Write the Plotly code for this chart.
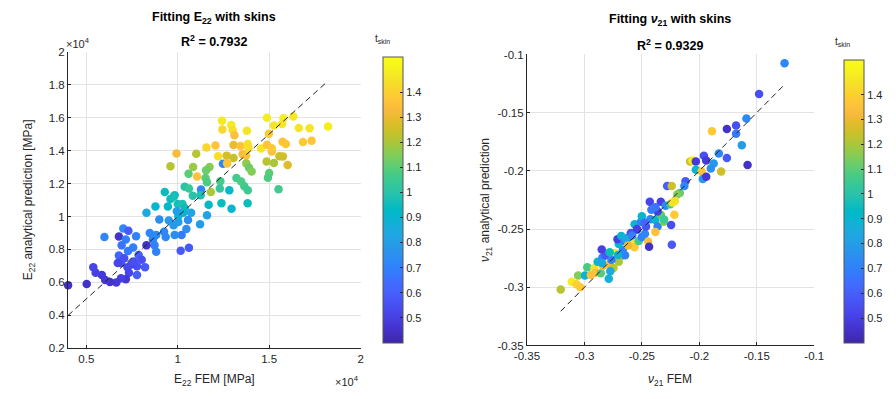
import plotly.graph_objects as go

# ---------------- data: left panel (E22, values x1e4) ----------------
e22_fem = [1.242, 1.244, 1.293, 1.300, 1.310, 1.378, 1.488, 1.526, 1.578, 1.570,
           1.632, 1.662, 1.721, 1.822, 1.498, 1.157, 1.206, 0.993, 1.101, 0.960,
           1.305, 1.343, 1.383, 1.355, 1.373, 1.387, 1.456, 1.488, 1.514, 1.514,
           1.573, 1.591, 1.685, 1.732, 1.221, 1.268, 1.305, 1.247, 1.270, 1.556,
           1.575, 1.601, 1.486, 1.526, 1.375, 1.390, 1.404, 1.084, 1.174, 1.155,
           1.059, 1.106, 1.152, 1.233, 1.160, 1.321, 1.347, 1.364, 1.383, 1.500,
           1.493, 1.551, 1.038, 1.061, 0.929, 0.983, 1.127, 1.181, 1.230, 1.282,
           0.960, 0.977, 0.878, 0.829, 0.946, 1.000, 1.026, 1.038, 1.073, 1.030,
           1.003, 0.995, 1.082, 1.125, 1.169, 1.239, 1.294, 1.382, 1.160, 1.122,
           0.899, 0.951, 0.977, 1.003, 1.047, 1.056, 1.021, 0.983, 0.925, 0.934,
           0.882, 0.864, 0.873, 0.882, 0.847, 0.829, 1.016, 1.061, 0.702, 0.730,
           0.772, 0.599, 0.678, 0.716, 0.756, 0.728, 0.693, 0.678, 0.707, 0.786,
           0.803, 0.821, 0.777, 0.746, 0.760, 0.725, 0.690, 0.672, 0.733, 0.777,
           0.716, 0.690, 0.664, 0.629, 0.603, 0.585, 0.551, 0.538, 0.400, 0.502]
e22_pred = [1.580, 1.527, 1.555, 1.525, 1.492, 1.520, 1.598, 1.551, 1.596, 1.561,
            1.606, 1.537, 1.535, 1.545, 1.502, 1.418, 1.431, 1.382, 1.380, 1.304,
            1.433, 1.427, 1.439, 1.378, 1.369, 1.414, 1.412, 1.435, 1.394, 1.414,
            1.453, 1.439, 1.451, 1.459, 1.365, 1.369, 1.355, 1.320, 1.322, 1.365,
            1.363, 1.312, 1.333, 1.324, 1.322, 1.296, 1.273, 1.300, 1.300, 1.280,
            1.259, 1.243, 1.233, 1.214, 1.208, 1.233, 1.212, 1.184, 1.159, 1.263,
            1.235, 1.165, 1.180, 1.169, 1.149, 1.129, 1.163, 1.149, 1.169, 1.159,
            1.106, 1.120, 1.061, 1.022, 1.061, 1.076, 1.076, 1.051, 1.022, 1.022,
            1.002, 1.031, 1.125, 1.129, 1.071, 1.080, 1.047, 1.080, 1.008, 0.953,
            0.982, 0.976, 0.947, 0.967, 0.924, 0.978, 0.888, 0.888, 0.908, 0.875,
            0.888, 0.861, 0.825, 0.786, 0.900, 0.825, 0.792, 0.810, 0.927, 0.914,
            0.880, 0.875, 0.878, 0.861, 0.812, 0.790, 0.825, 0.763, 0.747, 0.767,
            0.737, 0.692, 0.698, 0.708, 0.727, 0.692, 0.718, 0.718, 0.659, 0.645,
            0.620, 0.625, 0.600, 0.602, 0.614, 0.645, 0.659, 0.692, 0.583, 0.590]
e22_tskin = [1.47, 1.42, 1.47, 1.44, 1.35, 1.46, 1.48, 1.45, 1.48, 1.46,
             1.47, 1.46, 1.46, 1.48, 1.38, 1.42, 1.36, 1.33, 1.22, 1.22,
             1.30, 1.36, 1.45, 1.33, 1.36, 1.44, 1.46, 1.36, 1.35, 1.38,
             1.36, 1.37, 1.38, 1.37, 1.44, 1.26, 1.24, 0.72, 1.36, 1.24,
             1.26, 1.28, 1.22, 1.20, 1.17, 1.12, 1.15, 1.18, 1.16, 1.12,
             1.10, 1.36, 1.10, 1.07, 1.08, 1.06, 1.08, 1.06, 1.05, 1.10,
             1.08, 1.06, 1.00, 1.04, 0.95, 0.95, 0.72, 1.20, 1.03, 0.93,
             0.95, 0.97, 0.90, 0.85, 0.93, 0.97, 0.98, 0.95, 0.82, 0.90,
             0.88, 0.80, 1.00, 0.98, 0.93, 0.95, 0.90, 0.95, 0.82, 0.80,
             0.75, 0.78, 0.78, 0.80, 0.75, 0.75, 0.68, 0.75, 0.72, 0.72,
             0.74, 0.72, 0.70, 0.70, 0.72, 0.45, 0.58, 0.58, 0.72, 0.58,
             0.70, 0.72, 0.46, 0.70, 0.70, 0.68, 0.66, 0.62, 0.55, 0.60,
             0.55, 0.58, 0.55, 0.52, 0.55, 0.53, 0.56, 0.52, 0.52, 0.60,
             0.47, 0.50, 0.48, 0.46, 0.47, 0.48, 0.50, 0.52, 0.44, 0.45]

# ---------------- data: right panel (nu21) ----------------
nu_fem = [-0.1258, -0.148, -0.159, -0.168, -0.176, -0.189, -0.168, -0.163, -0.176, -0.183,
          -0.158, -0.196, -0.194, -0.208, -0.206, -0.203, -0.1875, -0.190, -0.203, -0.198,
          -0.181, -0.197, -0.194, -0.212, -0.213, -0.228, -0.224, -0.217, -0.219,
          -0.3206, -0.311, -0.3069, -0.3036, -0.3055, -0.2995, -0.2975, -0.2912, -0.2904, -0.2857,
          -0.2885, -0.2838, -0.2783, -0.2747, -0.2788, -0.2775, -0.2843, -0.2816, -0.2849, -0.2734,
          -0.2684, -0.2701, -0.2646, -0.2665, -0.2701, -0.2712, -0.2679, -0.2651, -0.2618, -0.2596,
          -0.2569, -0.2563, -0.2527, -0.2500, -0.2445, -0.2437, -0.2473, -0.2541, -0.2563, -0.2508,
          -0.2464, -0.2426, -0.2382, -0.2363, -0.2382, -0.2335, -0.2308, -0.2363, -0.2431, -0.2335,
          -0.2382, -0.2294, -0.2253, -0.2234, -0.2212, -0.2217, -0.2245, -0.2239,
          -0.2944, -0.2848, -0.2764, -0.2708, -0.2639, -0.2583, -0.2542, -0.2500, -0.2417, -0.2306,
          -0.2475, -0.2620, -0.2780]
nu_pred = [-0.1075, -0.134, -0.155, -0.161, -0.164, -0.166, -0.168, -0.178, -0.189, -0.185,
           -0.195, -0.187, -0.191, -0.192, -0.191, -0.192, -0.1936, -0.198, -0.199, -0.2005,
           -0.2005, -0.207, -0.205, -0.209, -0.213, -0.213, -0.213, -0.219, -0.220,
           -0.3019, -0.2953, -0.2973, -0.3000, -0.2898, -0.2898, -0.2827, -0.2835, -0.2876, -0.2880,
           -0.2780, -0.2816, -0.2799, -0.2835, -0.2926, -0.2863, -0.2745, -0.2725, -0.2676, -0.2706,
           -0.2734, -0.2780, -0.2725, -0.2679, -0.2629, -0.2588, -0.2560, -0.2602, -0.2574, -0.2533,
           -0.2629, -0.2657, -0.2602, -0.2569, -0.2607, -0.2651, -0.2541, -0.2505, -0.2459, -0.2437,
           -0.2478, -0.2415, -0.2423, -0.2478, -0.2525, -0.2376, -0.2437, -0.2349, -0.2266, -0.2266,
           -0.2313, -0.2300, -0.2286, -0.2272, -0.2258, -0.2376, -0.2464, -0.2635,
           -0.2894, -0.2792, -0.2764, -0.2722, -0.2583, -0.2556, -0.2500, -0.2389, -0.2333, -0.2417,
           -0.2445, -0.2640, -0.2700]
nu_tskin = [0.72, 0.55, 0.73, 0.55, 0.45, 1.38, 0.68, 0.80, 0.58, 0.72,
            0.45, 0.55, 0.48, 1.25, 1.47, 0.48, 0.78, 0.75, 0.90, 1.36,
            1.25, 0.78, 0.47, 0.58, 0.72, 0.60, 1.25, 1.10, 1.15,
            1.22, 1.48, 1.40, 1.38, 1.15, 0.90, 1.07, 1.45, 1.35, 1.10,
            0.88, 1.35, 1.32, 1.22, 0.88, 0.85, 0.72, 0.58, 0.50, 1.48,
            1.15, 1.20, 0.70, 0.72, 0.90, 0.50, 0.90, 0.70, 0.55, 0.55,
            1.45, 1.38, 1.05, 0.70, 1.35, 0.45, 0.72, 0.58, 0.88, 0.70,
            0.55, 0.72, 0.92, 0.70, 1.35, 1.10, 1.15, 0.50, 0.52, 0.50,
            0.65, 0.72, 1.05, 1.45, 1.45, 1.38, 0.55, 0.58,
            1.35, 0.85, 0.70, 0.88, 0.85, 0.70, 0.50, 0.90, 0.68, 1.05,
            0.62, 1.30, 0.95]

left_yticks = [0.2, 0.4, 0.6, 0.8, 1.0, 1.2, 1.4, 1.6, 1.8, 2.0]
left_yticktext = ["0.2", "0.4", "0.6", "0.8", "1", "1.2", "1.4", "1.6", "1.8", "2"]
left_xticks = [0.5, 1.0, 1.5, 2.0]
left_xticktext = ["0.5", "1", "1.5", "2"]
right_ticks = [-0.35, -0.3, -0.25, -0.2, -0.15, -0.1]
right_ticktext = ["-0.35", "-0.3", "-0.25", "-0.2", "-0.15", "-0.1"]
cb_ticks = [0.5, 0.6, 0.7, 0.8, 0.9, 1.0, 1.1, 1.2, 1.3, 1.4]
cb_ticktext = ["0.5", "0.6", "0.7", "0.8", "0.9", "1", "1.1", "1.2", "1.3", "1.4"]

# parula colormap (MATLAB, sampled)
parula_rgb = [
    (0.2422, 0.1504, 0.6603), (0.2578, 0.1818, 0.7511), (0.2706, 0.2147, 0.8364),
    (0.2783, 0.2559, 0.8991), (0.2813, 0.3006, 0.9414), (0.2795, 0.3447, 0.9717),
    (0.2699, 0.3892, 0.9906), (0.2440, 0.4358, 0.9988), (0.1963, 0.4847, 0.9892),
    (0.1786, 0.5289, 0.9682), (0.1687, 0.5703, 0.9359), (0.1460, 0.6091, 0.9079),
    (0.1248, 0.6459, 0.8883), (0.0952, 0.6798, 0.8598), (0.0297, 0.7082, 0.8163),
    (0.0067, 0.7312, 0.7660), (0.0964, 0.7500, 0.7120), (0.1717, 0.7670, 0.6554),
    (0.2161, 0.7843, 0.5923), (0.2906, 0.7973, 0.5188), (0.3909, 0.8029, 0.4354),
    (0.5044, 0.7993, 0.3480), (0.6174, 0.7876, 0.2612), (0.7242, 0.7698, 0.1910),
    (0.8203, 0.7498, 0.1535), (0.9035, 0.7330, 0.1774), (0.9728, 0.7298, 0.2394),
    (0.9970, 0.7659, 0.2199), (0.9892, 0.8136, 0.1885), (0.9676, 0.8639, 0.1643),
    (0.9597, 0.9135, 0.1423), (0.9691, 0.9606, 0.1064), (0.9769, 0.9839, 0.0805)]
n = len(parula_rgb)
parula = [[i / (n - 1), "rgb(%d,%d,%d)" % tuple(round(c * 255) for c in rgb)]
          for i, rgb in enumerate(parula_rgb)]

CMIN, CMAX = 0.40, 1.54
FONT = "Liberation Sans, Arial, Helvetica, sans-serif"
TXT = "#262626"

fig = go.Figure()

fig.add_trace(go.Scatter(
    x=e22_fem, y=e22_pred, mode="markers", xaxis="x", yaxis="y",
    marker=dict(size=8.5, color=e22_tskin, coloraxis="coloraxis", line=dict(width=0)),
    showlegend=False, cliponaxis=False))
l0, l1 = min(e22_fem), max(e22_fem)
fig.add_trace(go.Scatter(
    x=[l0, l1], y=[l0, l1], mode="lines", xaxis="x", yaxis="y",
    line=dict(color="#222222", width=1, dash="6px,4px"), showlegend=False))

fig.add_trace(go.Scatter(
    x=nu_fem, y=nu_pred, mode="markers", xaxis="x2", yaxis="y2",
    marker=dict(size=8.5, color=nu_tskin, coloraxis="coloraxis2", line=dict(width=0)),
    showlegend=False))
r0, r1 = min(nu_fem), max(nu_fem)
fig.add_trace(go.Scatter(
    x=[r0, r1], y=[r0, r1], mode="lines", xaxis="x2", yaxis="y2",
    line=dict(color="#222222", width=1, dash="6px,4px"), showlegend=False))

W, H = 896, 399
def px(v):
    return v / W
def py(v):
    return 1 - v / H

axis_common = dict(
    showline=True, linecolor=TXT, linewidth=1, mirror=False,
    ticks="inside", ticklen=3, tickcolor=TXT, tickwidth=1,
    showgrid=True, gridcolor="#e3e3e3", gridwidth=1, zeroline=False,
    tickfont=dict(family=FONT, size=11.5, color=TXT))

cb_common = dict(
    thickness=20, thicknessmode="pixels", lenmode="pixels",
    tickvals=cb_ticks, ticktext=cb_ticktext, ticks="inside", ticklen=3,
    tickcolor=TXT, outlinecolor="#555555", outlinewidth=1,
    tickfont=dict(family=FONT, size=11, color=TXT), xanchor="left", yanchor="middle")

fig.update_layout(
    width=W, height=H, margin=dict(l=0, r=0, t=0, b=0),
    paper_bgcolor="white", plot_bgcolor="white",
    font=dict(family=FONT, color=TXT),
    xaxis=dict(domain=[px(57.5), px(363)], range=[0.4, 2.0], tickvals=left_xticks,
               ticktext=left_xticktext, anchor="y", **axis_common),
    yaxis=dict(domain=[py(353), py(47)], range=[0.2, 2.0], tickvals=left_yticks,
               ticktext=left_yticktext, anchor="x", **axis_common),
    xaxis2=dict(domain=[px(536.7), px(836.7)], range=[-0.35, -0.1], tickvals=right_ticks,
                ticktext=right_ticktext, anchor="y2", **axis_common),
    yaxis2=dict(domain=[py(350), py(50)], range=[-0.35, -0.1], tickvals=right_ticks,
                ticktext=right_ticktext, anchor="x2", **axis_common),
    coloraxis=dict(colorscale=parula, cmin=CMIN, cmax=CMAX,
                   colorbar=dict(x=px(376), y=py(200), len=306, **cb_common)),
    coloraxis2=dict(colorscale=parula, cmin=CMIN, cmax=CMAX,
                    colorbar=dict(x=px(857), y=py(201.5), len=303, **cb_common)),
)

ann = []
def add(text, x, y, size=12, bold=False, angle=0, xanchor="center"):
    ann.append(dict(text=("<b>%s</b>" % text) if bold else text,
                    x=px(x), y=py(y), xref="paper", yref="paper",
                    xanchor=xanchor, yanchor="middle", showarrow=False, textangle=angle,
                    font=dict(family=FONT, size=size, color="#000000" if bold else TXT)))

add("Fitting E<sub>22</sub> with skins", 210, 12, size=12.5, bold=True)
add("R<sup>2</sup> = 0.7932", 210, 36, size=12.5, bold=True)
add("Fitting <i>ν</i><sub>21</sub> with skins", 686, 14, size=12.5, bold=True)
add("R<sup>2</sup> = 0.9329", 686, 40, size=12.5, bold=True)
add("E<sub>22</sub> FEM [MPa]", 210, 386, size=12)
add("E<sub>22</sub> analytical prediction [MPa]", 17, 200, size=12, angle=-90)
add("<i>ν</i><sub>21</sub> FEM", 686, 386, size=12)
add("<i>ν</i><sub>21</sub> analytical prediction", 494, 200, size=12, angle=-90)
add("×10<sup>4</sup>", 53, 38, size=11, xanchor="left")
add("×10<sup>4</sup>", 334, 387, size=11, xanchor="left")
add("t<sub>skin</sub>", 386, 34, size=10)
add("t<sub>skin</sub>", 866, 37, size=10)
fig.update_layout(annotations=ann)

fig.write_html("out.html")
